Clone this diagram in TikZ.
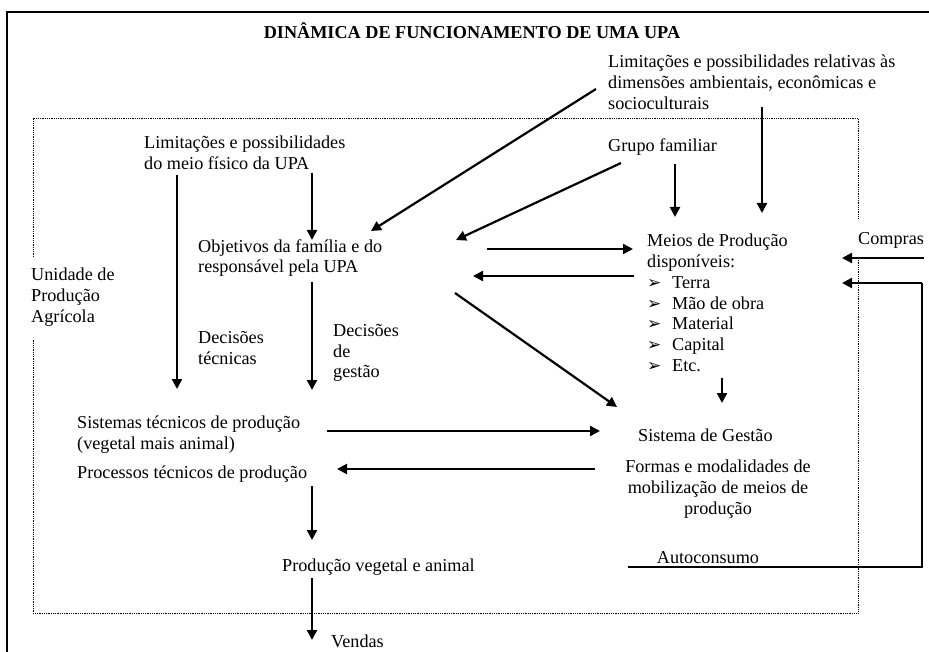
\documentclass[tikz,border=0pt]{standalone}
\usepackage{fontspec}
\setmainfont{Liberation Serif}
\newfontfamily\dejavu{DejaVu Sans}
\usepackage{tikz}
\usetikzlibrary{arrows.meta}
\newcommand{\marca}{\makebox[25pt][l]{\dejavu\fontsize{17}{17}\selectfont ➢}}
\tikzset{
  every node/.style={
    inner sep=0pt,
    font=\fontsize{18.2}{20.8}\selectfont
  },
  texto/.style={anchor=west, align=left},
  seta/.style={line width=2.2pt, -{Triangle[length=10pt,width=10pt]}},
  pontilhado/.style={densely dotted, line width=0.8pt}
}

\begin{document}
\begin{tikzpicture}[x=1pt,y=-1pt]
      \useasboundingbox (0,0) rectangle (929,652);
      \draw[line width=1.4pt] (7,652) -- (7,12) -- (929,12);
      \draw[pontilhado] (33,257) -- (33,118) -- (858,118) -- (858,219);
      \draw[pontilhado] (858,258) -- (858,613) -- (33,613) -- (33,340);

      \node [font=\fontsize{18.2}{20.8}\selectfont\bfseries] (Titulo) at (472,31)
      {DINÂMICA DE FUNCIONAMENTO DE UMA UPA};
      \node [texto] (DimLim) at (608,82) {Limitações e possibilidades relativas às\\
        dimensões ambientais, econômicas e\\ socioculturais};
      \node [texto] (LimFis) at (144,153) {Limitações e possibilidades\\ do meio físico da UPA};
      \node [texto] (Grupo) at (608,147) {Grupo familiar};
      \node [texto] (Obj) at (198,258) {Objetivos da família e do\\ responsável pela UPA};
      \node [texto] (UPA) at (31,297) {Unidade de\\ Produção\\ Agrícola};
      \node [texto] (DecTec) at (198,348) {Decisões\\ técnicas};
      \node [texto] (DecGes) at (333,353) {Decisões\\ de\\ gestão};
      \node [texto] (Meios) at (647,303) {Meios de Produção\\ disponíveis:\\
        \marca Terra\\ \marca Mão de obra\\ \marca Material\\ \marca Capital\\ \marca Etc.};
      \node [texto] (Compras) at (858,240) {Compras};
      \node [texto] (Sist) at (77,435) {Sistemas técnicos de produção\\ (vegetal mais animal)};
      \node [texto] (Proc) at (77,474) {Processos técnicos de produção};
      \node [texto] (Gestao) at (638,435) {Sistema de Gestão};
      \node [align=center] (Formas) at (718,489) {Formas e modalidades de\\
        mobilização de meios de\\ produção};
      \node (Auto) at (708,558) {Autoconsumo};
      \node [texto] (ProdVA) at (282,567) {Produção vegetal e animal};
      \node [texto] (Vendas) at (331,641) {Vendas};

      \draw[seta] ([shift={(33,22)}]LimFis.west) -- ([shift={(100,-46)}]Sist.west);
      \draw[seta] ([shift={(168,20)}]LimFis.west) -- ([shift={(114,-18)}]Obj.west);
      \draw[seta] ([shift={(114,24)}]Obj.west) -- ([shift={(235,-45)}]Sist.west);
      \draw[seta] ([shift={(-12,7)}]DimLim.west) -- ([shift={(173,-27)}]Obj.west);
      \draw[seta] ([shift={(13,16)}]Grupo.west) -- ([shift={(258,-18)}]Obj.west);
      \draw[seta] ([shift={(67,17)}]Grupo.west) -- ([shift={(28,-86)}]Meios.west);
      \draw[seta] ([shift={(154,25)}]DimLim.west) -- ([shift={(115,-90)}]Meios.west);
      \draw[seta] ([shift={(289,-9)}]Obj.west) -- ([shift={(-14,-54)}]Meios.west);
      \draw[seta] ([shift={(-13,-27)}]Meios.west) -- ([shift={(275,18)}]Obj.west);
      \draw[seta] ([shift={(257,35)}]Obj.west) -- ([shift={(-21,-28)}]Gestao.west);
      \draw[seta] ([shift={(75,75)}]Meios.west) -- ([shift={(84,-32)}]Gestao.west);
      \draw[seta] ([shift={(250,-4)}]Sist.west) -- ([shift={(-38,-4)}]Gestao.west);
      \draw[seta] ([shift={(-123,-20)}]Formas.center) -- ([shift={(260,-5)}]Proc.west);
      \draw[seta] ([shift={(235,12)}]Proc.west) -- ([shift={(30,-27)}]ProdVA.west);
      \draw[seta] ([shift={(30,11)}]ProdVA.west) -- ([shift={(-19,-1)}]Vendas.west);
      \draw[seta] ([shift={(66,18)}]Compras.west) -- ([shift={(-16,18)}]Compras.west);
      \draw[line width=1.2pt] ([shift={(-80,9)}]Auto.center) -- ([shift={(214,9)}]Auto.center)
        |- ([shift={(64,43)}]Compras.west);
      \draw[seta] ([shift={(64,43)}]Compras.west) -- ([shift={(-16,43)}]Compras.west);
    \end{tikzpicture}
\end{document}
